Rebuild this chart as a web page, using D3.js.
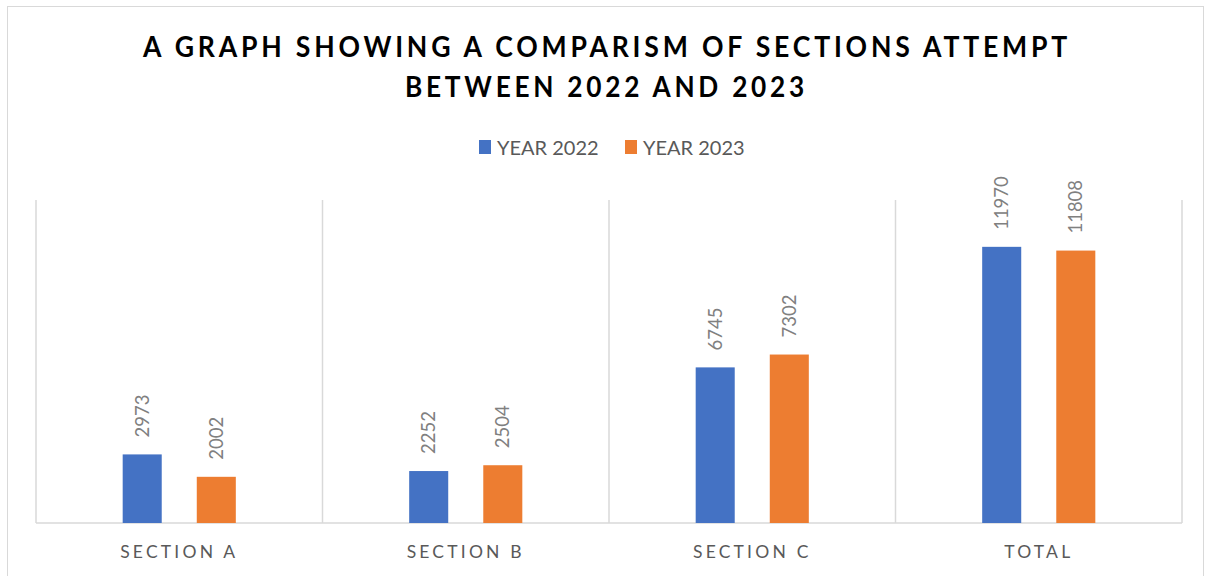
<!DOCTYPE html>
<html><head><meta charset="utf-8">
<script src="https://cdn.jsdelivr.net/npm/d3@7"></script>
<style>body{margin:0;background:#fff;}svg{display:block;font-family:Lato,"Open Sans",sans-serif;}</style>
</head><body><svg id="c" width="1205" height="576"></svg>
<script>
const categories = ["SECTION A","SECTION B","SECTION C","TOTAL"];
const seriesNames = ["YEAR 2022","YEAR 2023"];
const year2022 = [2973,2252,6745,11970];
const year2023 = [2002,2504,7302,11808];
const colors = ["#4472C4","#ED7D31"];
const titleLines = ["A GRAPH SHOWING A COMPARISM OF SECTIONS ATTEMPT","BETWEEN 2022 AND 2023"];
const yMax = 14000;

const svg = d3.select("#c");
svg.append("rect").attr("x",7.5).attr("y",6.5).attr("width",1196).attr("height",580)
  .attr("fill","#fff").attr("stroke","#d9d9d9");

const x0 = d3.scaleBand().domain(categories).range([36,1182]).padding(0);
const x1 = d3.scaleBand().domain(seriesNames).range([0,x0.bandwidth()]).paddingInner(0.473).paddingOuter(1.17);
const y = d3.scaleLinear().domain([0,yMax]).range([523,200]);

// gridlines (vertical category separators)
const bounds = categories.map(c=>x0(c)).concat([x0(categories[categories.length-1])+x0.bandwidth()]);
svg.append("g").selectAll("line").data(bounds).join("line")
  .attr("x1",d=>d).attr("x2",d=>d).attr("y1",y(yMax)).attr("y2",y(0))
  .attr("stroke","#d9d9d9").attr("stroke-width",1.5);
svg.append("line").attr("x1",36).attr("x2",1182).attr("y1",y(0)).attr("y2",y(0))
  .attr("stroke","#d9d9d9").attr("stroke-width",1.5);

const data = [];
categories.forEach((c,i)=>{
  data.push({c,s:seriesNames[0],v:year2022[i],col:colors[0]});
  data.push({c,s:seriesNames[1],v:year2023[i],col:colors[1]});
});

svg.append("g").selectAll("rect").data(data).join("rect")
  .attr("x",d=>x0(d.c)+x1(d.s)).attr("width",x1.bandwidth())
  .attr("y",d=>y(d.v)).attr("height",d=>y(0)-y(d.v)).attr("fill",d=>d.col);

svg.append("g").selectAll("text").data(data).join("text")
  .attr("transform",d=>`translate(${x0(d.c)+x1(d.s)+x1.bandwidth()/2+6.5},${y(d.v)-17}) rotate(-90)`)
  .attr("fill","#808080").attr("font-size",18.5).text(d=>d.v);

// axis labels
const xAxis = svg.append("g").attr("transform",`translate(0,${y(0)})`)
  .call(d3.axisBottom(x0).tickSize(0).tickPadding(0));
xAxis.select(".domain").remove();
xAxis.selectAll("text").attr("y",35).attr("dy",0).attr("fill","#595959")
  .attr("font-size",17.5).attr("letter-spacing","3.2px").attr("font-family","Lato,sans-serif");

// title
svg.append("g").selectAll("text").data(titleLines).join("text")
  .attr("x",(d,i)=>i===0?143:405).attr("y",(d,i)=>57+i*40)
  .attr("textLength",(d,i)=>i===0?928:403).attr("lengthAdjust","spacingAndGlyphs")
  .attr("letter-spacing","4px")
  .attr("font-size",28).attr("font-weight","bold").attr("fill","#000").text(d=>d);

// legend
const lg = svg.append("g");
const lx = [479,625];
seriesNames.forEach((s,i)=>{
  lg.append("rect").attr("x",lx[i]).attr("y",140).attr("width",12).attr("height",14).attr("fill",colors[i]);
  lg.append("text").attr("x",lx[i]+18).attr("y",154.5).attr("font-size",20).attr("fill","#595959").text(s);
});
</script></body></html>
